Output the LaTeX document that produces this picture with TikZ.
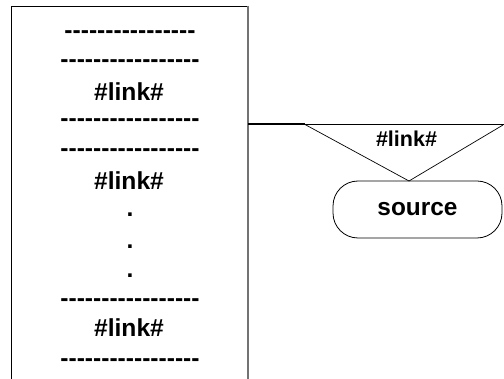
\documentclass[tikz,border=0pt]{standalone}
\usepackage{fontspec}
\setmainfont{Liberation Sans}
% a row of separate hyphens, kept apart so they never join into dashes
\newcommand\hyphenrow[1]{\foreach \i in {1,...,#1}{-}}
\begin{document}
\begin{tikzpicture}[x=1pt,y=-1pt,
  line/.style={font=\bfseries\fontsize{24.6}{28}\selectfont, inner sep=0pt, anchor=base},
  small/.style={font=\bfseries\fontsize{21.5}{25}\selectfont, inner sep=0pt, anchor=base},
  frame/.style={draw=black, line width=0.8pt},
  link/.style={draw=black, line width=2pt},
  tri/.style={draw=black, line width=0.7pt},
  term/.style={draw=black, line width=0.8pt, rounded corners=25pt,
    minimum width=169pt, minimum height=57pt, inner sep=0pt,
    font=\bfseries\fontsize{24.4}{28}\selectfont}]
\useasboundingbox (0,0) rectangle (504,379);

% page frame, running off the bottom
\draw[frame] (11,379) -- (11,6) -- (248,6);
\draw[draw=black!55, line width=1.6pt] (248,6) -- (248,379);
\coordinate (pageport) at (248,124.5);

% page content
\node[line] (l1) at (130,38.5) {\hyphenrow{16}};
\node[line] (l2) at (130,67.5) {\hyphenrow{17}};
\node[line] (k1) at (129,100.5) {\#link\#};
\node[line] (l3) at (130,126.5) {\hyphenrow{17}};
\node[line] (l4) at (130,156.5) {\hyphenrow{17}};
\node[line] (k2) at (129,190) {\#link\#};
\node[line] (d1) at (130,217) {.};
\node[line] (d2) at (130,248.5) {.};
\node[line] (d3) at (130,278) {.};
\node[line] (l5) at (130,306.5) {\hyphenrow{17}};
\node[line] (k3) at (129,337) {\#link\#};
\node[line] (l6) at (130,366.5) {\hyphenrow{17}};

% link funnel to the source
\node[term] (src) at (417.5,209.5) {source};
\coordinate (tl) at (305,124.5);
\coordinate (tr) at (504,124.5);
\coordinate (apex) at (409,181);
\draw[link] (pageport) -- (tl);
\draw[tri] (tl) -- (tr);
\draw[tri] (tl) -- (apex) -- (503,125);
\node[small] (k4) at (406.5,147) {\#link\#};
\end{tikzpicture}
\end{document}
